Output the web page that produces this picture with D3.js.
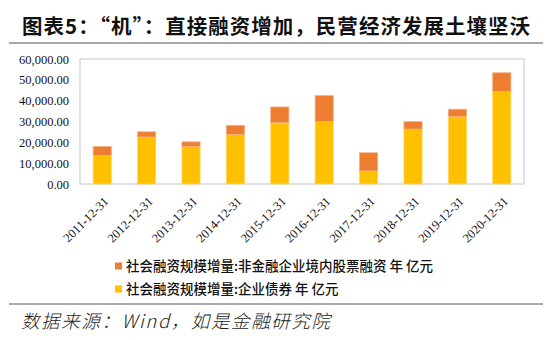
<!DOCTYPE html>
<html>
<head>
<meta charset="utf-8">
<script src="https://cdn.jsdelivr.net/npm/d3@7"></script>
<style>
  html, body { margin: 0; padding: 0; background: #fff; }
  svg { display: block; }
</style>
</head>
<body>
<svg id="chart" width="550" height="340"></svg>
<script>
// Annual increments of aggregate social financing (亿元)
const years = ["2011-12-31","2012-12-31","2013-12-31","2014-12-31","2015-12-31",
               "2016-12-31","2017-12-31","2018-12-31","2019-12-31","2020-12-31"];
const bondValues   = [13658, 22551, 18022, 23817, 29388, 29993, 6244, 26318, 32416, 44467];
const equityValues = [4377, 2508, 2219, 4350, 7590, 12416, 8759, 3606, 3479, 8923];
const yTicks = [0, 10000, 20000, 30000, 40000, 50000, 60000];
const seriesNames = ["社会融资规模增量:非金融企业境内股票融资 年 亿元",
                     "社会融资规模增量:企业债券 年 亿元"];
const seriesColors = ["#ED7D31", "#FFC000"];

const svg = d3.select("#chart");
const plot = { left: 80, right: 524, top: 59, bottom: 184 };

// Title and rule beneath it
svg.append("text")
  .attr("x", 22).attr("y", 34)
  .attr("font-family", "'Noto Sans CJK SC', sans-serif")
  .attr("font-weight", 700)
  .attr("font-size", 20.5)
  .attr("fill", "#111")
  .attr("textLength", 508)
  .attr("lengthAdjust", "spacing")
  .text("图表5：“机”：直接融资增加，民营经济发展土壤坚沃");
svg.append("line")
  .attr("x1", 9).attr("x2", 543).attr("y1", 43).attr("y2", 43)
  .attr("stroke", "#8c8c8c").attr("stroke-width", 1.5);

const x = d3.scaleBand().domain(years).range([plot.left, plot.right]).paddingInner(0.59).paddingOuter(0.295);
const y = d3.scaleLinear().domain([0, 60000]).range([plot.bottom, plot.top]);

// Plot frame
svg.append("rect")
  .attr("x", plot.left).attr("y", plot.top)
  .attr("width", plot.right - plot.left).attr("height", plot.bottom - plot.top)
  .attr("fill", "none").attr("stroke", "#d9d9d9").attr("stroke-width", 1.5);

// Stacked bars: bonds at the bottom, equity on top
const stackData = years.map((yr, i) => ({ year: yr, bond: bondValues[i], equity: equityValues[i] }));
const stack = d3.stack().keys(["bond", "equity"])(stackData);
const colorByKey = { bond: seriesColors[1], equity: seriesColors[0] };
const strokeByKey = { bond: "#ffd966", equity: "#f4b183" };

svg.append("g").selectAll("g").data(stack).join("g")
  .attr("fill", d => colorByKey[d.key])
  .attr("stroke", d => strokeByKey[d.key])
  .attr("stroke-width", 0.8)
  .selectAll("rect").data(d => d).join("rect")
  .attr("x", d => x(d.data.year))
  .attr("width", x.bandwidth())
  .attr("y", d => y(d[1]))
  .attr("height", d => y(d[0]) - y(d[1]));

// Y axis labels
const yAxis = d3.axisLeft(y).tickValues(yTicks).tickSize(0).tickPadding(0)
  .tickFormat(d3.format(",.2f"));
const gy = svg.append("g").attr("transform", "translate(69,0)").call(yAxis);
gy.select(".domain").remove();
gy.selectAll("text")
  .attr("font-family", "'Liberation Serif', serif")
  .attr("font-size", 12.5)
  .attr("fill", "#111");

// X axis labels rotated
const xAxis = d3.axisBottom(x).tickSize(0).tickPadding(0);
const gx = svg.append("g").attr("transform", `translate(0,${plot.bottom})`).call(xAxis);
gx.select(".domain").remove();
gx.selectAll("text")
  .attr("font-family", "'Liberation Serif', serif")
  .attr("font-size", 12.5)
  .attr("fill", "#111")
  .attr("text-anchor", "end")
  .attr("dy", "0.35em")
  .attr("transform", "translate(4,15) rotate(-45)");

// Legend
const legend = svg.append("g");
seriesNames.forEach((name, i) => {
  const ly = 266 + i * 23;
  legend.append("rect")
    .attr("x", 115).attr("y", ly - 3.5).attr("width", 7).attr("height", 7)
    .attr("fill", seriesColors[i]);
  legend.append("text")
    .attr("x", 126).attr("y", ly + 5)
    .attr("font-family", "'Noto Sans CJK SC', sans-serif")
    .attr("font-weight", 500)
    .attr("font-size", 13.5)
    .attr("fill", "#111")
    .text(name);
});

// Bottom rule and source note
svg.append("line")
  .attr("x1", 9).attr("x2", 543).attr("y1", 304).attr("y2", 304)
  .attr("stroke", "#555").attr("stroke-width", 1);
svg.append("text")
  .attr("x", 21).attr("y", 328)
  .attr("font-family", "'Noto Sans CJK SC', sans-serif")
  .attr("font-style", "italic")
  .attr("font-weight", 300)
  .attr("font-size", 18.5)
  .attr("fill", "#222")
  .attr("textLength", 309)
  .attr("lengthAdjust", "spacing")
  .text("数据来源：Wind，如是金融研究院");
</script>
</body>
</html>
